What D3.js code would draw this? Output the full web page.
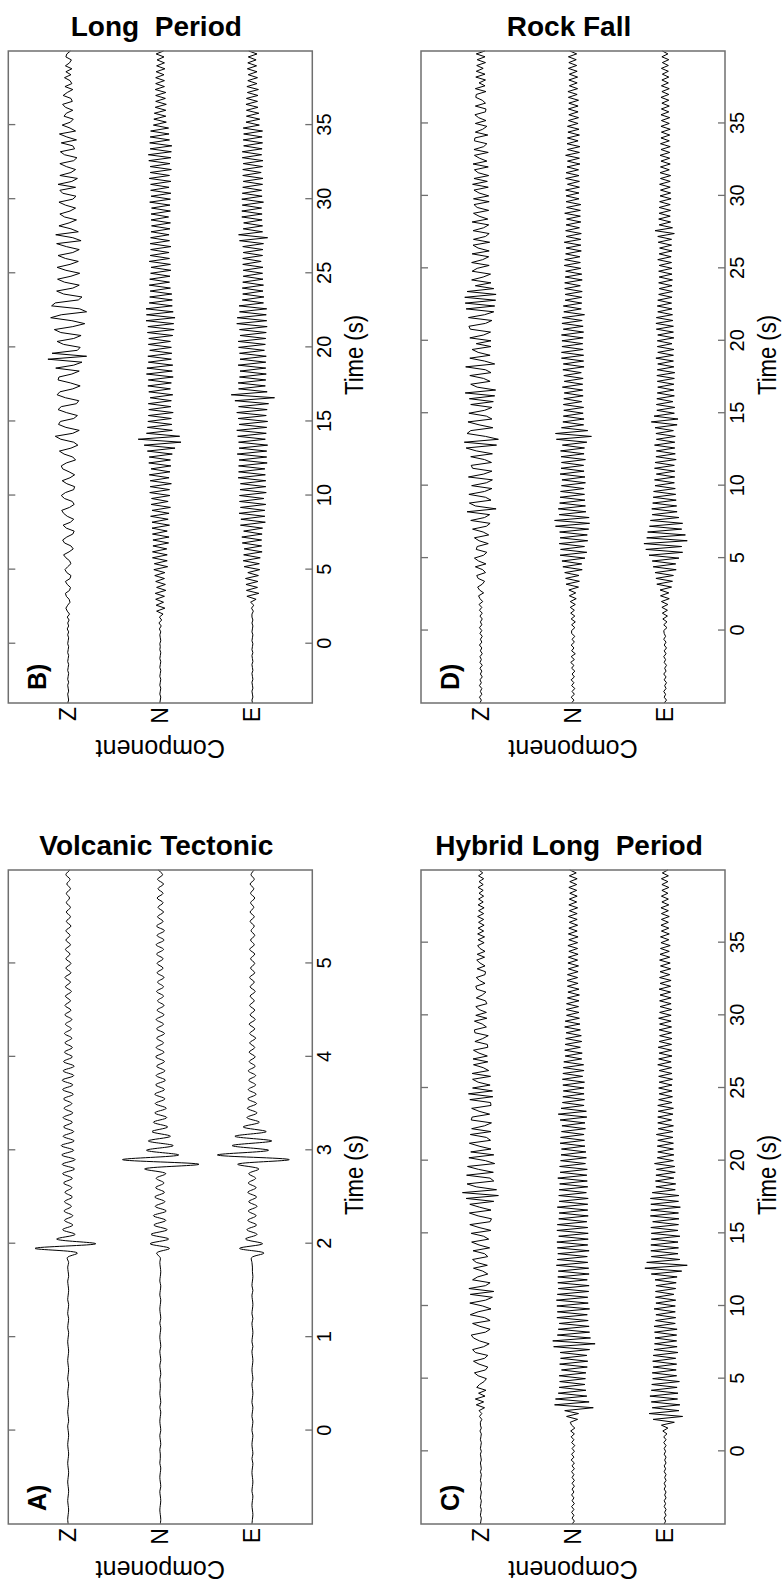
<!DOCTYPE html>
<html>
<head>
<meta charset="utf-8">
<script src="https://cdn.jsdelivr.net/npm/d3@7"></script>
<style>
  body { margin: 0; background: #fff; }
  text { font-family: "Liberation Sans", Arial, Helvetica, sans-serif; }
</style>
</head>
<body>
<svg id="chart" width="782" height="1583"></svg>
<script>
// Components, top to bottom of each (unrotated) panel
const components = ["Z", "N", "E"];
const ticksVT = [0, 1, 2, 3, 4, 5];
const ticksLong = [0, 5, 10, 15, 20, 25, 30, 35];

// Amplitudes: 100 = half the spacing between two traces.
// Volcanic Tectonic: one sample every 0.05 s from -1 s
const vtZ = [
  0,1,0,-1,0, 1,0,-1,0,1, 0,-1,0,1,0, -1,0,1,0,-1,
  0,1,-1,0,1, 0,-1,0,1,0, -1,1,0,-1,0, 1,0,-1,0,1,
  0,-1,1,0,-1, 1,0,-1,1,0, -1,0,1,-1,0,
  1,-1,2,-20,72, -60,25,-15,12,-10, 8,-10,9,-7,8, -9,7,-8,10,-9,
  12,-14,13,-15,14, -12,15,-13,11,-12, 10,-9,11,-10,9, -8,10,-11,12,-10,
  13,-12,11,-13,10, -9,8,-9,7,-8, 8,-7,6,-8,7, -6,7,-5,6,-7,
  6,-5,7,-6,5, -6,5,-4,6,-5, 5,-4,5,-6,4, -5,4,-5,4,-3,
  4,-5,3,-4,5, -4
];
const vtN = [
  0,-1,0,1,0, -1,0,1,-1,0, 1,0,-1,1,0, 0,1,-1,0,1,
  -1,0,1,0,-1, 1,-1,0,1,0, 0,1,-1,0,1, -1,0,1,-1,0,
  1,0,-1,1,-1, 0,1,0,-1,1, 0,-1,1,0,-1,
  0,1,0,8,-20, 22,-18,20,-15,14, -12,15,-13,11,-10, 12,-9,10,-8,9,
  -12,34,-84,82,-40, 30,-28,26,-22,18, -16,15,-14,12,-13, 11,-10,12,-9,10,
  -11,9,-10,8,-9, 10,-8,9,-7,8, -9,8,-7,9,-8, 7,-8,6,-7,8,
  -7,6,-8,7,-6, 7,-6,8,-7,9, -8,7,-9,8,-6, 6,-7,5,-6,7,
  -6,5,-7,6,-5, 5
];
const vtE = [
  1,0,-1,0,1, 0,-1,1,0,-1, 0,1,0,-1,1, -1,0,1,0,-1,
  1,0,-1,1,0, -1,1,0,-1,0, 1,-1,0,1,0, -1,0,1,-1,1,
  0,-1,0,1,-1, 1,0,-1,0,1, -1,1,0,-1,0,
  0,1,2,-25,28, -22,15,-10,12,-9, 10,-8,9,-10,8, -9,10,-8,9,-7,
  8,-14,32,-80,76, -35,44,-42,38,-30, 20,-15,12,-10,11, -9,10,-8,9,-7,
  8,-7,9,-6,7, -6,7,-5,6,-7, 6,-5,7,-6,5, -5,6,-4,5,-6,
  5,-4,6,-5,4, -5,4,-5,6,-4, 4,-5,3,-4,5, -4,5,-3,4,-5,
  4,-3,5,-4,3, -4
];

// Long Period: one sample every 0.2 s from -4 s
const lpZ = [
  1,-1,0,1,-1, 0,1,-1,1,0, -1,1,0,-1,1, 0,-1,1,0,-1,
  1,0,-1,1,-1, 2,-1,1,-2,2, -3,2,5,1,-4, -2,4,6,-3,-5,
  2,6,-4,-6,3, 7,1,-6,-3,5, 10,-2,-11,-6,8, 12,3,-10,-13,4,
  11,-5,-12,2,10, 14,-3,-13,-9,8, 15,6,-12,-14,3, 13,-4,-14,-2,12,
  15,4,-16,-10,9, 19,-6,-21,-12,16, 28,-10,-24,5,21, 17,-12,-20,4,22,
  15,-18,-23,6,24, 18,-10,-26,-5,22, 20,-8,-24,27,-12, -30,44,-40,35,-20,
  -26,10,24,-12,-28, 16,30,-10,-36,-8, 38,15,-40,-25,36, 28,-22,-30,10,25,
  -10,-24,8,23,-6, -25,5,24,-4,-22, 6,22,-10,-24,4, 25,-28,-10,27,-22,
  -6,20,-2,-18,8, 18,-4,-16,6,20, -10,-17,12,18,-16, 22,-8,-20,18,-6,
  -16,4,18,-12,-19, 8,17,-14,-10,15, -18,3,19,-16,-4, 13,-5,-11,9,4,
  -10,6,12,-9,-6, 11,2,-10,7,-8, -4,8,-6,5,-8, 6,-3,-7,5,3,
  -5
];
const lpN = [
  1,0,-1,1,0, -1,1,0,-1,1, 0,-1,1,0,-1, 1,0,-1,1,0,
  1,-1,0,1,-1, 2,-2,3,-3,2, -6,8,-10,9,-7, 10,-9,11,-12,8,
  -11,10,-9,12,-10, 14,-16,13,-15,17, -15,17,-14,16,-18, 16,-19,17,-15,18,
  -20,18,-17,21,-19, 18,-22,20,-17,19, -21,23,-20,22,-24, 22,-19,24,-21,20,
  -23,25,-22,24,-26, 28,-32,35,-45,48, -42,30,-26,28,-25, 27,-24,26,-28,25,
  -23,26,-24,22,-27, 25,-22,27,-24,26, -28,30,-26,29,-27, 26,-24,27,-25,23,
  -24,26,-22,25,-27, 28,-30,27,-29,31, -32,30,-28,31,-26, 24,-26,23,-25,22,
  -22,24,-20,23,-21, 21,-23,20,-22,24, -20,22,-19,21,-23, 22,-20,21,-19,20,
  -21,19,-22,20,-18, 20,-22,19,-21,23, -22,20,-23,21,-19, 21,-23,24,-20,22,
  -24,22,-21,25,-23, 26,-24,22,-25,23, -20,22,-19,21,-18, 15,-13,14,-12,13,
  -12,11,-13,10,-11, 10,-12,11,-9,10, -9,10,-8,9,-10, 8,-9,7,-8,9,
  -7
];
const lpE = [
  0,1,-1,0,1, -1,0,1,-1,0, 1,-1,0,1,-1, 0,1,-1,1,0,
  -1,1,0,-1,1, 0,-1,1,-1,1, 1,-2,2,-3,4, -8,12,-14,13,-11,
  14,-12,15,-13,10, -16,18,-15,20,-17, 19,-21,18,-20,22, -20,23,-21,19,-22,
  26,-28,25,-27,29, -27,26,-29,28,-25, 28,-30,27,-29,26, -29,31,-28,30,-27,
  30,-32,29,-31,33, -31,29,-33,30,-28, 32,-30,34,-31,29, -33,31,-30,34,-32,
  30,-35,38,-48,46, -32,30,-28,31,-29, 28,-30,27,-29,31, -29,27,-30,28,-26,
  30,-28,31,-29,27, -30,28,-32,34,-31, 33,-30,28,-31,29, -24,22,-25,21,-23,
  22,-24,21,-23,20, -22,20,-23,21,-19, 21,-22,20,-23,21, -24,28,-33,30,-22,
  20,-22,19,-21,23, -21,23,-20,22,-24, 23,-21,22,-20,21, -22,20,-23,21,-19,
  21,-22,20,-23,22, -20,22,-21,19,-22, 20,-21,19,-22,20, -15,14,-16,13,-14,
  13,-12,14,-11,13, -12,11,-13,12,-10, 10,-11,9,-10,11, -9,10,-8,9,-10,
  8
];

// Rock Fall: one sample every 0.2 s from -5 s
const rfZ = [
  2,-1,3,-2,1, -2,3,-1,2,-3, 1,-2,2,-3,2, -1,2,-3,1,-2, 3,-2,1,-3,2,
  -2,3,-2,1,-3, 2,-3,3,-2,4, -4,2,5,-6,3, 7,-3,-8,6,9, -10,-4,12,-11,5,
  14,-6,-13,10,8, -16,4,14,-17,-5, 18,-12,-20,22,-8, -19,30,-33,12,25, -22,-10,26,-8,-24,
  20,-12,-25,27,-6, -24,18,21,-23,-8, 22,-25,10,32,-34, 36,-38,-10,30,22, -26,4,28,-24,-12,
  26,-8,-24,22,-27, 25,-30,34,-32,8, 22,-20,-6,24,-22, -10,33,-30,-8,24, -20,6,19,-22,10,
  -22,24,-6,-21,23, 26,-10,-24,27,-8, -28,32,-30,34,-32, 35,-33,30,-28,12, -22,20,-5,-21,19,
  8,-18,20,-4,-17, 19,-18,6,17,-19, 16,-10,-18,17,-6, -17,19,-15,4,16, -17,8,15,-18,16,
  -17,4,15,-16,18, -14,15,-17,6,14, -16,17,-13,3,14, -16,15,-6,-13,14, 13,-15,12,-4,-13,
  12,-11,5,13,-10, -11,12,-10,-3,11, 10,-11,12,-9,4, -10,11,-9,10,-5, 9,-10,8,-9,10,
  -9
];
const rfN = [
  3,-2,4,-3,2, -4,3,-2,4,-3, 2,-4,3,-2,5, -3,4,-5,3,-2, 4,-3,2,-4,3,
  3,-4,3,-5,4, -4,5,-3,6,-5, 6,-7,8,-6,9, -12,15,-14,16,-13, 18,-20,22,-19,24,
  -26,28,-30,27,-25, 30,-32,28,-31,29, -34,38,-36,40,-35, 30,-28,32,-27,29, -26,28,-25,27,-24,
  25,-27,24,-26,28, -24,26,-23,25,-27, 26,-24,27,-25,23, -30,36,-40,38,-32, 25,-23,22,-24,21,
  -22,20,-23,21,-19, 20,-22,19,-21,23, -21,19,-22,20,-18, 22,-24,21,-23,25, -23,25,-22,24,-21,
  24,-22,25,-23,21, -22,24,-20,23,-25, 20,-18,21,-19,17, -19,17,-20,18,-16, 18,-20,17,-19,16,
  -17,19,-16,18,-15, 16,-18,15,-17,19, -17,15,-18,16,-14, 15,-17,14,-16,18, -16,14,-17,15,-13,
  15,-13,16,-14,12, -14,16,-13,15,-12, 13,-15,12,-14,16, -14,12,-15,13,-11, 12,-14,11,-13,12,
  -11,10,-12,9,-11, 10,-11,9,-12,10, -9,11,-10,8,-9, 9,-10,8,-9,10, -8,9,-7,10,-8,
  7
];
const rfE = [
  2,-3,2,-1,3, -2,1,-3,2,-2, 3,-2,1,-3,2, -1,3,-2,2,-3, 2,-2,3,-1,2,
  3,-4,3,-4,5, -5,6,-5,7,-6, 8,-9,10,-8,11, -14,18,-16,20,-18, 22,-24,26,-23,28,
  -30,35,-38,42,-36, 46,-48,40,-44,38, -36,34,-38,32,-30, 28,-26,29,-25,27, -24,26,-23,25,-22,
  22,-20,23,-21,19, -21,23,-20,22,-24, 20,-22,19,-21,23, -21,19,-22,20,-18, 22,-26,30,-28,24,
  -20,18,-21,19,-17, 18,-20,17,-19,16, -19,17,-20,18,-21, 17,-19,16,-18,20, -18,16,-19,17,-15,
  17,-19,16,-18,19, -18,20,-17,19,-16, 16,-15,17,-14,16, -15,14,-16,13,-15, 14,-16,13,-15,14,
  -15,13,-14,16,-13, 13,-15,12,-14,15, -14,16,-20,22,-16, 13,-12,14,-11,13, -12,13,-11,12,-13,
  11,-12,10,-11,12, -11,10,-12,11,-9, 10,-11,9,-10,11, -10,9,-11,10,-9, 9,-10,8,-11,9,
  -9,8,-10,9,-8, 8,-9,7,-8,9, -8,7,-9,8,-7, 7,-8,6,-7,8, -7,6,-8,7,-6,
  6
];

// Hybrid Long Period: one sample every 0.2 s from -5 s
const hlpZ = [
  1,0,-1,1,0, -1,1,0,-1,1, 0,-1,1,0,-1, 1,0,-1,1,-1, 0,1,-1,0,1,
  -1,1,0,-1,1, 0,-1,2,-1,1, 1,-2,3,-2,4, -8,10,-6,12,-9, 5,-11,9,3,-7,
  -12,6,14,-10,-15, 4,16,-8,-15,12, 18,-6,-18,3,16, 21,-10,-20,2,18, -20,-8,23,6,-22,
  -4,24,-10,-25,23, -28,26,-10,-20,18, 7,-15,-4,16,-14, 10,18,-15,-8,17, -19,4,20,-17,-6,
  21,-22,4,24,-20, -23,6,25,-22,3, 24,-28,32,-38,40, -34,10,30,-28,-20, 31,-27,5,29,-30,
  -10,26,-28,22,-22, 4,25,-21,-12,23, -22,20,-8,-23,21, 19,-19,4,20,-22, -21,24,-26,27,-25,
  18,-20,6,18,-21, 19,-17,-5,16,-15, 17,-14,4,16,-15, -14,13,-4,-16,13, 14,-12,-3,14,-13,
  11,-12,4,11,-13, -10,10,-3,-11,9, 11,-9,3,10,-9, -10,8,-9,2,9, -8,8,-9,2,7,
  -7,6,-8,7,-6, 6,-7,5,-6,7, -6,5,-7,6,-5, 5,-6,4,-5,6, -5,4,-6,5,-4,
  4
];
const hlpN = [
  2,-3,2,-2,3, -2,3,-3,2,-2, 3,-2,2,-3,2, -3,2,-2,3,-3, 2,-3,4,-2,3,
  -3,2,-4,3,-2, 4,-3,5,-4,3, 6,-10,14,-12,18, -44,40,-35,38,-30, 32,-28,30,-26,29,
  -27,30,-28,25,-31, 29,-32,27,-30,28, -36,42,-48,44,-38, 34,-36,32,-35,30, -33,35,-31,34,-36,
  35,-33,36,-32,34, -34,32,-35,33,-31, 33,-35,32,-34,36, -32,34,-31,33,-35, 34,-32,35,-33,31,
  -33,35,-32,34,-30, 31,-33,30,-32,34, -32,30,-33,31,-29, 30,-32,29,-31,33, -30,28,-31,29,-27,
  27,-29,26,-28,25, -26,28,-25,27,-24, 25,-27,24,-26,28, -30,32,-29,26,-24, 23,-25,22,-24,21,
  -24,22,-25,23,-21, 22,-24,21,-23,20, -19,17,-20,18,-16, 17,-19,16,-18,15, -16,18,-15,17,-14,
  14,-13,15,-12,14, -13,12,-14,11,-13, 12,-11,13,-10,12, -11,10,-12,11,-10, 10,-11,9,-10,11,
  -10,9,-11,10,-9, 9,-10,8,-9,10, -9,8,-10,9,-8, 8,-9,7,-8,9, -8,7,-9,8,-7,
  7
];
const hlpE = [
  2,-1,2,-2,1, -2,2,-1,2,-2, 1,-2,2,-1,2, -2,1,-2,2,-1, 2,-2,1,-2,2,
  -1,2,-2,3,-2, 3,-4,5,-6,8, -20,26,-38,35,-30, 28,-32,30,-27,33, -28,30,-26,29,-31,
  27,-25,28,-24,26, -25,27,-23,26,-28, 24,-26,23,-25,22, -25,23,-26,24,-22, 21,-23,20,-22,24,
  -22,20,-23,21,-19, 21,-23,20,-24,22, -26,30,-36,44,-48, 40,-32,30,-28,31, -29,31,-28,30,-32,
  30,-28,31,-29,27, -30,32,-29,31,-33, 31,-29,32,-30,28, -22,20,-23,21,-19, 20,-22,19,-21,23,
  -18,17,-19,16,-18, 17,-18,16,-17,19, -17,15,-18,16,-14, 16,-17,15,-18,16, -15,14,-16,13,-15,
  14,-15,13,-16,14, -15,13,-14,16,-13, 14,-15,13,-14,15, -14,13,-15,12,-14, 13,-14,12,-13,14,
  -13,12,-14,11,-13, 12,-13,11,-12,13, -12,11,-13,12,-10, 11,-12,10,-11,12, -10,11,-9,10,-11,
  9,-8,10,-9,8, -8,9,-7,8,-9, 8,-7,9,-8,7, -7,8,-6,7,-8, 7,-6,8,-7,6,
  -6
];

const svg = d3.select("#chart");

// Each panel is drawn as a normal landscape plot, then turned a quarter turn anticlockwise
const panels = [
  { label: "B)", title: "Long  Period", left: 8.3, top: 51, right: 312.3, bottom: 703,
    domain: [-4, 40], start: -4, step: 0.2, ticks: ticksLong, traces: [lpZ, lpN, lpE], smooth: false },
  { label: "D)", title: "Rock Fall", left: 421, top: 51, right: 725, bottom: 703,
    domain: [-5, 40], start: -5, step: 0.2, ticks: ticksLong, traces: [rfZ, rfN, rfE], smooth: false },
  { label: "A)", title: "Volcanic Tectonic", left: 8.3, top: 870, right: 312.3, bottom: 1524,
    domain: [-1, 6], start: -1, step: 0.05, ticks: ticksVT, traces: [vtZ, vtN, vtE], smooth: true },
  { label: "C)", title: "Hybrid Long  Period", left: 421, top: 870, right: 725, bottom: 1524,
    domain: [-5, 40], start: -5, step: 0.2, ticks: ticksLong, traces: [hlpZ, hlpN, hlpE], smooth: false }
];

const frameColor = "#6f6f6f";

panels.forEach(p => {
  const W = p.bottom - p.top;   // time length
  const H = p.right - p.left;   // component height

  // title stays horizontal
  svg.append("text")
    .attr("x", (p.left + p.right) / 2 - 4)
    .attr("y", p.top - 15)
    .attr("text-anchor", "middle")
    .style("white-space", "pre")
    .style("font-size", "28px")
    .style("font-weight", "bold")
    .text(p.title);

  const g = svg.append("g")
    .attr("transform", `translate(${p.left},${p.bottom}) rotate(-90)`);

  const x = d3.scaleLinear().domain(p.domain).range([0, W]);
  const y = d3.scaleLinear().domain([0.35, 3.65]).range([H, 0]);
  const amp = d3.scaleLinear().domain([-100, 100]).range([-0.5, 0.5]);
  const compY = d3.scaleOrdinal().domain(components).range([3, 2, 1]);

  // traces
  p.traces.forEach((vals, k) => {
    const c = compY(components[k]);
    const line = d3.line()
      .x((v, i) => x(p.start + i * p.step))
      .y(v => y(c + amp(v)))
      .curve(p.smooth ? d3.curveCatmullRom : d3.curveLinear);
    g.append("path")
      .attr("d", line(vals))
      .attr("fill", "none")
      .attr("stroke", "#000")
      .attr("stroke-width", 1)
      .attr("stroke-linejoin", "round");
  });

  // frame
  g.append("rect")
    .attr("x", 0).attr("y", 0).attr("width", W).attr("height", H)
    .attr("fill", "none").attr("stroke", frameColor).attr("stroke-width", 1.5);

  // time axis (bottom, labelled) and mirror ticks (top); ticks point inward
  const axB = g.append("g").attr("transform", `translate(0,${H})`)
    .call(d3.axisBottom(x).tickValues(p.ticks).tickFormat(d3.format("d"))
      .tickSizeInner(-7).tickSizeOuter(0).tickPadding(4.5));
  const axT = g.append("g")
    .call(d3.axisTop(x).tickValues(p.ticks).tickSizeInner(-7).tickSizeOuter(0).tickFormat(""));
  [axB, axT].forEach(a => {
    a.select(".domain").remove();
    a.selectAll(".tick line").attr("stroke", frameColor).attr("stroke-width", 1.3);
  });
  axB.selectAll(".tick text")
    .attr("fill", "#000")
    .style("font-size", "20px")
    .style("font-family", '"Liberation Sans", Arial, sans-serif');

  // component labels
  g.selectAll(".comp")
    .data(components)
    .enter().append("text")
    .attr("x", -4)
    .attr("y", d => y(compY(d)))
    .attr("text-anchor", "end")
    .attr("dominant-baseline", "central")
    .style("font-size", "23px")
    .text(d => d);

  // axis titles
  g.append("text")
    .attr("transform", `translate(-37,${H / 2}) rotate(-90)`)
    .attr("text-anchor", "middle")
    .style("font-size", "25px")
    .text("Component");

  g.append("text")
    .attr("x", W / 2 + 22)
    .attr("y", H + 51)
    .attr("text-anchor", "middle")
    .attr("textLength", 80)
    .attr("lengthAdjust", "spacingAndGlyphs")
    .style("font-size", "26px")
    .text("Time (s)");

  // panel letter
  g.append("text")
    .attr("x", 13)
    .attr("y", 38)
    .style("font-size", "25px")
    .style("font-weight", "bold")
    .text(p.label);
});
</script>
</body>
</html>
